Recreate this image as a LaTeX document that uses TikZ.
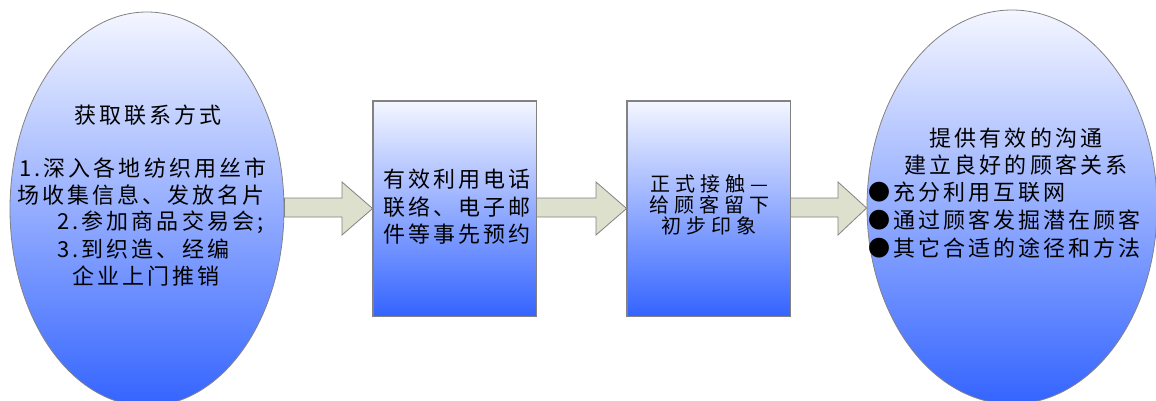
\documentclass[tikz,border=0pt]{standalone}
\usepackage{fontspec}
\newfontfamily\cjkA[LetterSpace=14]{Noto Sans CJK SC}
\newfontfamily\cjkB[LetterSpace=25]{Noto Sans CJK SC}
\usetikzlibrary{shapes.geometric}
\definecolor{topblue}{RGB}{244,246,255}
\definecolor{botblue}{RGB}{52,100,255}
\definecolor{arrfill}{RGB}{221,224,204}
\definecolor{edgegray}{RGB}{130,130,130}
\tikzset{
  blueshade/.style={draw=edgegray, line width=0.8pt, top color=topblue, bottom color=botblue, inner sep=0pt},
  oval/.style={blueshade, ellipse},
  card/.style={blueshade, rectangle, minimum width=163pt, minimum height=215pt},
  txt/.style={font=\cjkA\fontsize{22}{27.5}\selectfont, inner sep=0pt, align=center},
  txtb/.style={font=\cjkB\fontsize{20}{21}\selectfont, inner sep=0pt, align=center},
  bigarrow/.style={draw=edgegray, line width=0.8pt, fill=arrfill, line join=miter}
}
\begin{document}
\begin{tikzpicture}[x=1pt,y=-1pt]
\useasboundingbox (0,0) rectangle (1156,401);
% shapes
\node[oval, minimum width=274pt, minimum height=394pt] (e1) at (147,209) {};
\node[card] (b1) at (454.5,208.5) {};
\node[card] (b2) at (708.5,208.5) {};
\node[oval, minimum width=290pt, minimum height=394pt] (e2) at (1012,207) {};
% arrows (shaft 198-217, head 182-235, tip y 208)
\path[bigarrow] (e1.east |- 0,198) -- (342,198) -- (342,182) -- (b1.west) -- (342,235) -- (342,217) -- (e1.east |- 0,217) -- cycle;
\path[bigarrow] (b1.east |- 0,198) -- (596,198) -- (596,182) -- (b2.west) -- (596,235) -- (596,217) -- (b1.east |- 0,217) -- cycle;
\path[bigarrow] (b2.east |- 0,198) -- (838,198) -- (838,182) -- (e2.west |- 0,208) -- (838,235) -- (838,217) -- (b2.east |- 0,217) -- cycle;
\draw[draw=edgegray, line width=0.8pt] (b1.north west) rectangle (b1.south east);
\draw[draw=edgegray, line width=0.8pt] (b2.north west) rectangle (b2.south east);
% left ellipse text
\node[txt] (t0) at (148,115) {获取联系方式};
\node[txt, anchor=west] (t1) at (19,168) {1.深入各地纺织用丝市};
\node[txt, anchor=west] (t2) at (17,195) {场收集信息、发放名片};
\node[txt, anchor=west] (t3) at (57,222) {2.参加商品交易会;};
\node[txt, anchor=west] (t4) at (57,249) {3.到织造、经编};
\node[txt, anchor=west] (t5) at (72,276) {企业上门推销};
% box texts
\node[txt] (bt1) at (457,207) {有效利用电话\\联络、电子邮\\件等事先预约};
\node[txtb] (bt2) at (709,205) {正式接触—\\给顾客留下\\初步印象};
% right ellipse text
\node[txt] (r0) at (1016,138) {提供有效的沟通};
\node[txt] (r1) at (1016,165) {建立良好的顾客关系};
\node[txt, anchor=west] (r2) at (868,192) {●充分利用互联网};
\node[txt, anchor=west] (r3) at (868,220) {●通过顾客发掘潜在顾客};
\node[txt, anchor=west] (r4) at (868,248) {●其它合适的途径和方法};
\end{tikzpicture}
\end{document}
